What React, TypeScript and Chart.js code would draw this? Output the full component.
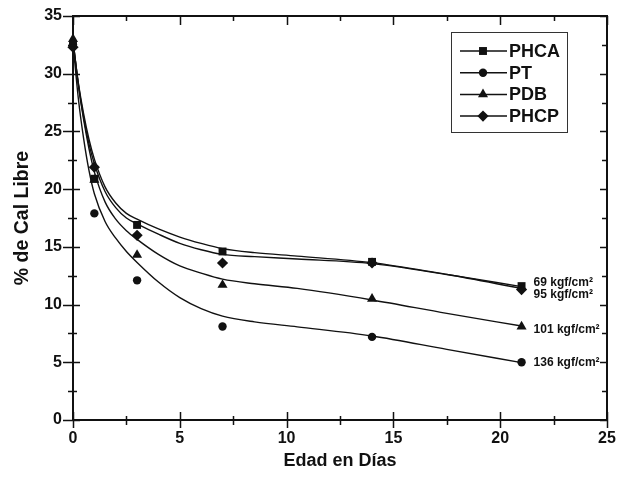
import React, { useEffect, useRef } from 'react';
import { Chart, registerables } from 'chart.js';

Chart.register(...registerables);

// Measured data points
const days = [0, 1, 3, 7, 14, 21];
const seriesNames = ['PHCA', 'PT', 'PDB', 'PHCP'];
const phcaValues = [32.5, 20.9, 16.9, 14.6, 13.7, 11.6];
const ptValues = [32.5, 17.9, 12.1, 8.1, 7.2, 5.0];
const pdbValues = [33.0, 20.8, 14.3, 11.7, 10.5, 8.1];
const phcpValues = [32.3, 21.9, 16.0, 13.6, 13.6, 11.3];

// Fitted curves
const curveDays = [0, 0.25, 0.5, 0.75, 1, 1.5, 2, 2.5, 3, 4, 5, 6, 7, 8.5, 10.5, 14, 17.5, 21];
const phcaCurve = [32.8, 29.2, 26.5, 24.3, 22.6, 20.2, 18.8, 17.9, 17.4, 16.55, 15.85, 15.3, 14.85, 14.5, 14.2, 13.63, 12.62, 11.55];
const ptCurve = [32.6, 27.85, 24.35, 21.6, 19.6, 17.2, 15.75, 14.6, 13.65, 11.95, 10.6, 9.65, 9.0, 8.5, 8.07, 7.28, 6.12, 4.97];
const pdbCurve = [32.9, 29.0, 26.0, 23.5, 21.5, 18.9, 17.4, 16.4, 15.65, 14.35, 13.35, 12.72, 12.2, 11.8, 11.4, 10.4, 9.24, 8.14];
const phcpCurve = [32.8, 29.1, 26.2, 23.9, 22.2, 19.8, 18.4, 17.5, 17.0, 16.1, 15.3, 14.75, 14.35, 14.15, 13.95, 13.55, 12.6, 11.4];

// Pressure labels at the right end
const pressureLabels = ['69 kgf/cm²', '95 kgf/cm²', '101 kgf/cm²', '136 kgf/cm²'];
const pressureLabelY = [11.87, 10.83, 7.8, 4.94];

const xMin = 0, xMax = 25, xStep = 5;
const yMin = 0, yMax = 35, yStep = 5;

const INK = '#111111';
const FONT = '"Liberation Sans", Arial, Helvetica, sans-serif';

const pointStyles = ['rect', 'circle', 'triangle', 'rectRot'];
const pointRadii = [5.6, 4.2, 5.8, 5.6];

function toXY(xs: number[], ys: number[]) {
  return xs.map((x, i) => ({ x, y: ys[i] }));
}

function drawMarker(ctx: CanvasRenderingContext2D, style: string, cx: number, cy: number, r: number) {
  ctx.beginPath();
  if (style === 'rect') {
    const s = r * Math.SQRT1_2;
    ctx.rect(cx - s, cy - s, 2 * s, 2 * s);
  } else if (style === 'circle') {
    ctx.arc(cx, cy, r, 0, Math.PI * 2);
  } else if (style === 'triangle') {
    ctx.moveTo(cx, cy - r);
    ctx.lineTo(cx + r * 0.866, cy + r * 0.5);
    ctx.lineTo(cx - r * 0.866, cy + r * 0.5);
    ctx.closePath();
  } else {
    ctx.moveTo(cx, cy - r);
    ctx.lineTo(cx + r, cy);
    ctx.lineTo(cx, cy + r);
    ctx.lineTo(cx - r, cy);
    ctx.closePath();
  }
  ctx.fill();
}

const framePlugin = {
  id: 'frameTicks',
  afterDraw(chart: any) {
    const { ctx, chartArea, scales } = chart;
    const { left, right, top, bottom } = chartArea;
    const x = scales.x;
    const y = scales.y;
    ctx.save();
    ctx.strokeStyle = INK;
    ctx.lineWidth = 2;
    ctx.strokeRect(left, top, right - left, bottom - top);
    ctx.lineWidth = 1.5;
    for (let v = xMin; v <= xMax + 1e-9; v += xStep / 2) {
      const major = Math.abs(v / xStep - Math.round(v / xStep)) < 1e-6;
      const px = Math.round(x.getPixelForValue(v)) + 0.5;
      ctx.beginPath();
      ctx.moveTo(px, bottom - (major ? 8 : 4));
      ctx.lineTo(px, bottom + (major ? 8 : 5));
      ctx.moveTo(px, top);
      ctx.lineTo(px, top + (major ? 9 : 5));
      ctx.stroke();
    }
    for (let v = yMin; v <= yMax + 1e-9; v += yStep / 2) {
      const major = Math.abs(v / yStep - Math.round(v / yStep)) < 1e-6;
      const py = Math.round(y.getPixelForValue(v)) + 0.5;
      ctx.beginPath();
      ctx.moveTo(left - (major ? 10 : 5), py);
      ctx.lineTo(left + (major ? 7 : 4), py);
      ctx.moveTo(right - (major ? 7 : 5), py);
      ctx.lineTo(right, py);
      ctx.stroke();
    }
    ctx.restore();
  },
};

const labelsPlugin = {
  id: 'pressureLabels',
  afterDatasetsDraw(chart: any) {
    const { ctx, scales } = chart;
    const x = scales.x;
    const y = scales.y;
    ctx.save();
    ctx.fillStyle = INK;
    ctx.font = `bold 12px ${FONT}`;
    ctx.textBaseline = 'middle';
    ctx.textAlign = 'left';
    const lx = x.getPixelForValue(days[days.length - 1]) + 12;
    pressureLabels.forEach((t, i) => {
      ctx.fillText(t, lx, y.getPixelForValue(pressureLabelY[i]));
    });

    // legend box
    const { chartArea } = chart;
    const boxW = 116, boxH = 100;
    const bx = chartArea.right - 40 - boxW;
    const by = chartArea.top + 16;
    ctx.fillStyle = '#ffffff';
    ctx.fillRect(bx, by, boxW, boxH);
    ctx.strokeStyle = '#333';
    ctx.lineWidth = 1;
    ctx.strokeRect(bx + 0.5, by + 0.5, boxW, boxH);
    ctx.font = `bold 18px ${FONT}`;
    seriesNames.forEach((name, i) => {
      const ry = by + 19 + i * 21.7;
      ctx.strokeStyle = INK;
      ctx.lineWidth = 1.5;
      ctx.beginPath();
      ctx.moveTo(bx + 9, ry);
      ctx.lineTo(bx + 56, ry);
      ctx.stroke();
      ctx.fillStyle = INK;
      drawMarker(ctx, pointStyles[i], bx + 32, ry, pointRadii[i]);
      ctx.fillText(name, bx + 58, ry + 1);
    });
    ctx.restore();
  },
};

export default function App() {
  const canvasRef = useRef<HTMLCanvasElement | null>(null);

  useEffect(() => {
    document.body.style.margin = '0';
    const canvas = canvasRef.current;
    if (!canvas) return;

    const pointSets = [phcaValues, ptValues, pdbValues, phcpValues];
    const curveSets = [phcaCurve, ptCurve, pdbCurve, phcpCurve];

    const datasets: any[] = [];
    curveSets.forEach((c, i) => {
      datasets.push({
        type: 'line',
        label: seriesNames[i] + ' fit',
        data: toXY(curveDays, c),
        borderColor: INK,
        borderWidth: 1.4,
        pointRadius: 0,
        fill: false,
        cubicInterpolationMode: 'monotone',
        showLine: true,
      });
    });
    pointSets.forEach((p, i) => {
      datasets.push({
        type: 'scatter',
        label: seriesNames[i],
        data: toXY(days, p),
        backgroundColor: INK,
        borderColor: INK,
        borderWidth: 0,
        pointStyle: pointStyles[i],
        pointRadius: pointRadii[i],
        showLine: false,
        clip: false,
      });
    });

    const tickFont = { family: FONT, size: 16, weight: 'bold' as const };
    const titleFont = { family: FONT, size: 18, weight: 'bold' as const };
    const yTitleFont = { family: FONT, size: 19.5, weight: 'bold' as const };

    const chart = new Chart(canvas, {
      type: 'scatter',
      data: { datasets },
      options: {
        animation: false,
        responsive: false,
        layout: { padding: { top: 16, right: 16, left: 0, bottom: 0 } },
        plugins: { legend: { display: false }, tooltip: { enabled: false } },
        scales: {
          x: {
            type: 'linear',
            min: xMin,
            max: xMax,
            ticks: { stepSize: xStep, padding: 9, color: INK, font: tickFont },
            grid: { display: false, drawTicks: false },
            border: { display: false },
            title: { display: true, text: 'Edad en Días', color: INK, font: titleFont, padding: { top: 0, bottom: 10 } },
            afterFit: (s: any) => { s.height = 62; s.paddingLeft = 0; s.paddingRight = 0; },
          },
          y: {
            type: 'linear',
            min: yMin,
            max: yMax,
            ticks: { stepSize: yStep, padding: 11, color: INK, font: tickFont },
            grid: { display: false, drawTicks: false },
            border: { display: false },
            title: { display: true, text: '% de Cal Libre', color: INK, font: yTitleFont, padding: { top: 11, bottom: 0 } },
            afterFit: (s: any) => { s.width = 73; s.paddingTop = 0; s.paddingBottom = 0; },
          },
        },
      } as any,
      plugins: [framePlugin, labelsPlugin],
    });

    return () => chart.destroy();
  }, []);

  return (
    <div style={{ width: 623, height: 482 }}>
      <canvas ref={canvasRef} width={623} height={482} style={{ display: 'block' }} />
    </div>
  );
}
